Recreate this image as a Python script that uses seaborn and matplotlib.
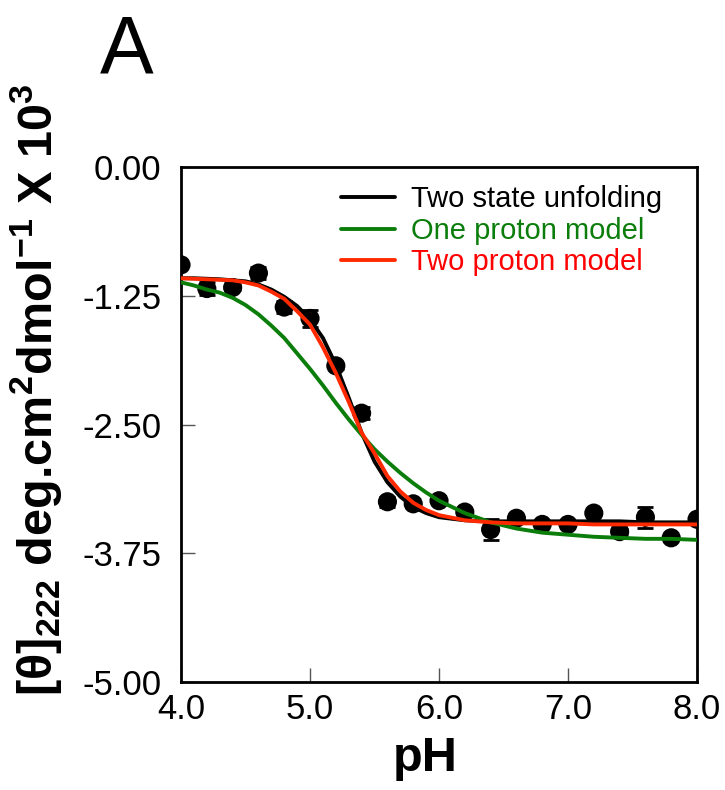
import matplotlib
matplotlib.use('Agg')
import matplotlib.pyplot as plt
import pandas as pd
import seaborn as sns

# measured points
ph = [4.0, 4.2, 4.4, 4.6, 4.8, 5.0, 5.2, 5.4, 5.6, 5.8, 6.0,
      6.2, 6.4, 6.6, 6.8, 7.0, 7.2, 7.4, 7.6, 7.8, 8.0]
theta = [-0.95, -1.18, -1.17, -1.03, -1.36, -1.47, -1.93, -2.39, -3.25, -3.27, -3.24,
         -3.35, -3.52, -3.41, -3.47, -3.47, -3.36, -3.54, -3.40, -3.60, -3.42]
err = [0.0, 0.06, 0.02, 0.06, 0.06, 0.08, 0.03, 0.06, 0.05, 0.02, 0.02,
       0.02, 0.10, 0.02, 0.02, 0.02, 0.02, 0.03, 0.10, 0.02, 0.02]

# fitted curves
curve_ph = [4.0, 4.1, 4.2, 4.3, 4.4, 4.5, 4.6, 4.7, 4.8, 4.9, 5.0,
            5.1, 5.2, 5.3, 5.4, 5.5, 5.6, 5.7, 5.8, 5.9, 6.0,
            6.2, 6.4, 6.6, 6.8, 7.0, 7.2, 7.4, 7.6, 7.8, 8.0]
two_state = [-1.08, -1.08, -1.085, -1.09, -1.10, -1.11, -1.14, -1.19, -1.26, -1.35, -1.48,
             -1.66, -1.92, -2.24, -2.58, -2.86, -3.06, -3.20, -3.30, -3.36, -3.40,
             -3.43, -3.44, -3.44, -3.44, -3.44, -3.44, -3.44, -3.45, -3.45, -3.45]
one_proton = [-1.12, -1.15, -1.19, -1.22, -1.27, -1.34, -1.43, -1.54, -1.66, -1.81, -1.96,
              -2.12, -2.29, -2.45, -2.60, -2.74, -2.86, -2.97, -3.07, -3.16, -3.24,
              -3.36, -3.45, -3.51, -3.55, -3.57, -3.59, -3.60, -3.61, -3.61, -3.62]
two_proton = [-1.08, -1.085, -1.09, -1.095, -1.10, -1.12, -1.15, -1.21, -1.28, -1.40, -1.53,
              -1.75, -2.00, -2.28, -2.58, -2.78, -3.00, -3.15, -3.26, -3.33, -3.38,
              -3.43, -3.45, -3.46, -3.46, -3.46, -3.47, -3.47, -3.47, -3.47, -3.47]

labels = ['Two state unfolding', 'One proton model', 'Two proton model']
colors = ['black', '#0b7d0b', '#ff2a00']
text_colors = ['black', '#0b7d0b', '#ff0000']

sns.set_style('ticks')
plt.rcParams['font.family'] = ['Liberation Sans', 'DejaVu Sans']
plt.rcParams['text.color'] = 'black'
plt.rcParams['axes.labelcolor'] = 'black'
plt.rcParams['mathtext.fontset'] = 'custom'
plt.rcParams['mathtext.rm'] = 'Liberation Sans'
plt.rcParams['mathtext.bf'] = 'Liberation Sans:bold'

df_pts = pd.DataFrame({'ph': ph, 'theta': theta})
df_curves = pd.DataFrame({
    'ph': curve_ph * 3,
    'theta': two_state + one_proton + two_proton,
    'model': [labels[0]] * len(curve_ph) + [labels[1]] * len(curve_ph) + [labels[2]] * len(curve_ph),
})

fig = plt.figure(figsize=(7.25, 7.9), dpi=100)
ax = fig.add_axes([0.2497, 0.1367, 0.7117, 0.6519])

ax.errorbar(ph, theta, yerr=err, fmt='none', ecolor='black', elinewidth=1.5,
            capsize=6, capthick=2, zorder=2)
sns.scatterplot(data=df_pts, x='ph', y='theta', color='black', s=190,
                edgecolor='none', zorder=3, ax=ax)
sns.lineplot(data=df_curves, x='ph', y='theta', hue='model', hue_order=labels,
             palette=colors, linewidth=2.8, zorder=4, ax=ax)

ax.set_xlim(4.0, 8.0)
ax.set_ylim(-5.0, 0.0)
ax.set_xticks([4.0, 5.0, 6.0, 7.0, 8.0])
ax.set_xticklabels(['4.0', '5.0', '6.0', '7.0', '8.0'])
ax.set_yticks([0.0, -1.25, -2.5, -3.75, -5.0])
ax.set_yticklabels(['0.00', '-1.25', '-2.50', '-3.75', '-5.00'])
ax.tick_params(direction='in', length=10, width=1, color='#555555',
               labelsize=25, labelcolor='black')
ax.tick_params(axis='y', pad=14)
ax.tick_params(axis='x', pad=8)
for s in ax.spines.values():
    s.set_linewidth(2)
    s.set_color('black')

ax.set_xlabel('pH', fontsize=35, fontweight='bold')
ax.xaxis.set_label_coords(0.473, -0.105)
ax.set_ylabel(r'[θ]$_{\mathbf{222}}$ deg.cm$^{\mathbf{2}}$dmol$^{\mathbf{-1}}$ X 10$^{\mathbf{3}}$',
              fontsize=35, fontweight='bold')
ax.yaxis.set_label_coords(-0.225, 0.567)

leg = ax.legend(loc='upper right', bbox_to_anchor=(0.9547, 0.987), frameon=False,
                fontsize=21, handlelength=1.85, handletextpad=0.55,
                labelspacing=0.12, borderaxespad=0)
for txt, c in zip(leg.get_texts(), text_colors):
    txt.set_color(c)

fig.text(0.175, 0.935, 'A', fontsize=58, ha='center', va='center')

fig.savefig('out.png', dpi=100)
